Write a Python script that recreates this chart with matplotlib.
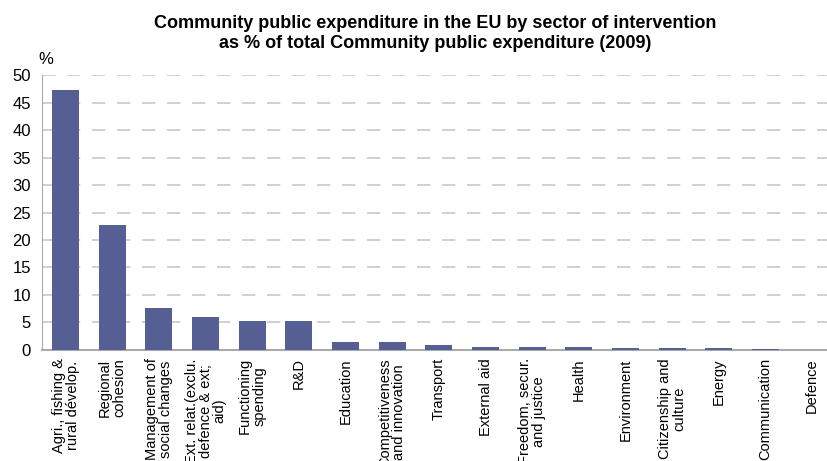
import matplotlib.pyplot as plt

plt.rcParams['font.family'] = ['Liberation Sans', 'DejaVu Sans']

sectors = [
    "Agri., fishing &\nrural dévelop.",
    "Regional\ncohesion",
    "Management of\nsocial changes",
    "Ext. relat.(exclu.\ndefence & ext;\naid)",
    "Functioning\nspending",
    "R&D",
    "Education",
    "Competitiveness\nand innovation",
    "Transport",
    "External aid",
    "Freedom, secur.\nand justice",
    "Health",
    "Environment",
    "Citizenship and\nculture",
    "Energy",
    "Communication",
    "Defence",
]
share = [47.3, 22.7, 7.7, 5.9, 5.3, 5.3, 1.35, 1.35, 0.95, 0.6, 0.6, 0.45, 0.3, 0.3, 0.3, 0.1, 0.0]
yticks = list(range(0, 55, 5))

fig = plt.figure(figsize=(8.28, 4.61), dpi=100)
ax = fig.add_axes([0.051, 0.241, 0.958, 0.596])

x = range(len(sectors))
ax.bar(x, share, width=0.58, color="#565f93", zorder=3)

ax.set_xlim(-0.5, len(sectors) - 0.5)
ax.set_ylim(0, 50)
ax.set_yticks(yticks)
ax.set_yticklabels([str(t) for t in yticks], fontsize=12)
ax.set_xticks(list(x))
ax.set_xticklabels(sectors, rotation=90, fontsize=10.5, ha="center", va="top",
                   multialignment="center", linespacing=1.0)
ax.tick_params(axis="both", length=0, pad=8)
ax.tick_params(axis="x", pad=6)

ax.yaxis.grid(True, color="#c8c8c8", linestyle=(0, (8, 7)), linewidth=1.2, zorder=0)
for side in ("top", "right"):
    ax.spines[side].set_visible(False)
ax.spines["left"].set_color("#aaaaaa")
ax.spines["bottom"].set_color("#aaaaaa")
ax.spines["bottom"].set_linewidth(1.5)
ax.spines["bottom"].set_zorder(2)

ax.text(-0.005, 1.03, "%", transform=ax.transAxes, fontsize=12, ha="left", va="bottom")

fig.text(0.525, 0.968, "Community public expenditure in the EU by sector of intervention\n"
         "as % of total Community public expenditure (2009)",
         ha="center", va="top", fontsize=13, fontweight="bold", linespacing=1.25)

fig.savefig("out.png", dpi=100)
